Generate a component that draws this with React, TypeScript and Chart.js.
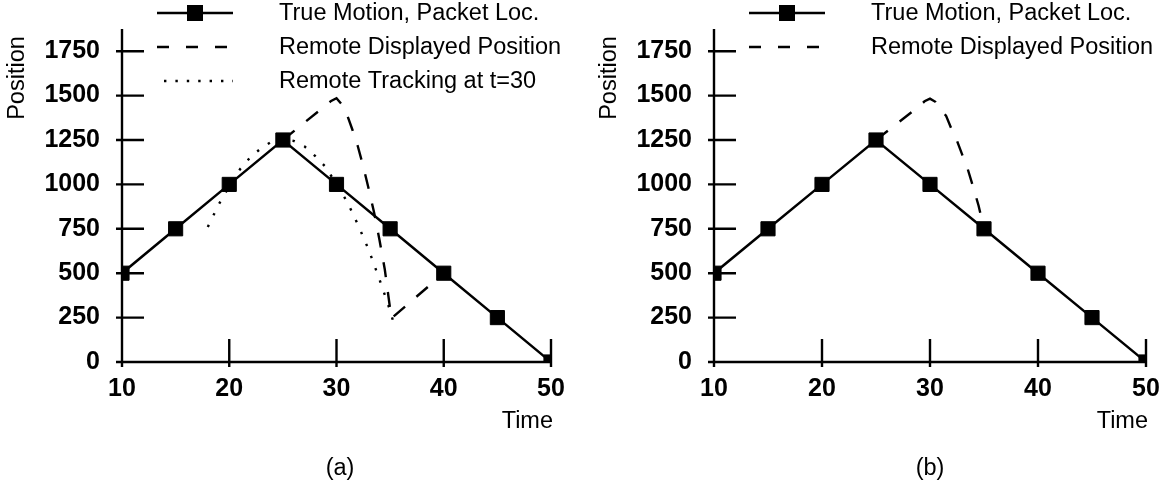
import React, { useEffect, useRef } from 'react';
import { Chart, registerables } from 'chart.js';

Chart.register(...registerables);

const FONT = '"Liberation Sans", Arial, Helvetica, sans-serif';

// True motion (packet locations)
const trueTimes = [10, 15, 20, 25, 30, 35, 40, 45, 50];
const truePositions = [500, 750, 1000, 1250, 1000, 750, 500, 250, 0];

// Panel (a): remote displayed position
const displayedTimesA = [25, 29, 29.5, 30, 30.5, 31, 31.5, 32, 32.5, 33, 33.5, 34, 34.5, 35, 35.1, 40];
const displayedPositionsA = [1250, 1445, 1470, 1485, 1450, 1390, 1305, 1212, 1100, 975, 843, 690, 522, 300, 245, 500];

// Panel (a): remote tracking at t=30
const trackingTimesA = [18, 19, 20, 21, 22, 23, 24, 25, 26, 27, 28, 29, 30, 31, 32, 33, 34, 35, 35.4];
const trackingPositionsA = [760, 885, 990, 1085, 1155, 1205, 1242, 1258, 1245, 1215, 1160, 1097, 1000, 902, 773, 632, 466, 290, 203];

// Panel (b): remote displayed position
const displayedTimesB = [25, 29, 29.5, 30, 30.5, 31, 31.5, 32, 32.5, 33, 33.5, 34, 34.5, 35];
const displayedPositionsB = [1250, 1440, 1468, 1483, 1465, 1425, 1385, 1310, 1245, 1165, 1085, 985, 880, 750];

const xTicks = [10, 20, 30, 40, 50];
const yTicks = [0, 250, 500, 750, 1000, 1250, 1500, 1750];
const X_MIN = 10;
const X_MAX = 50;
const Y_MIN = 0;
const Y_MAX = 1875;

const legendLabels = ['True Motion, Packet Loc.', 'Remote Displayed Position', 'Remote Tracking at t=30'];
const yTitle = 'Position';
const xTitle = 'Time';
const captions = ['(a)', '(b)'];

const pts = (xs: number[], ys: number[]) => xs.map((x, i) => ({ x, y: ys[i] }));

const decorPlugin = {
  id: 'decor',
  afterDraw(chart: any, _args: any, opts: any) {
    const ctx: CanvasRenderingContext2D = chart.ctx;
    const { left, right, top, bottom } = chart.chartArea;
    const xs = chart.scales.x;
    const ys = chart.scales.y;
    ctx.save();
    ctx.strokeStyle = '#000';
    ctx.fillStyle = '#000';
    ctx.lineWidth = 2.4;
    ctx.lineCap = 'butt';
    ctx.setLineDash([]);
    ctx.beginPath();
    ctx.moveTo(left, top);
    ctx.lineTo(left, bottom + 5);
    ctx.moveTo(left - 1, bottom);
    ctx.lineTo(right + 1, bottom);
    for (const v of yTicks) {
      const py = ys.getPixelForValue(v);
      ctx.moveTo(left - 6, py);
      ctx.lineTo(left + 22, py);
    }
    for (const v of xTicks) {
      const px = xs.getPixelForValue(v);
      ctx.moveTo(px, bottom - 23);
      ctx.lineTo(px, bottom + 5);
    }
    ctx.stroke();

    // legend
    const lx0 = left + 35;
    const lx1 = left + 111;
    const tx = left + 157;
    ctx.font = `23.5px ${FONT}`;
    ctx.textBaseline = 'middle';
    ctx.textAlign = 'left';
    chart.data.datasets.forEach((ds: any, i: number) => {
      const y = opts.legendTop + i * opts.legendGap;
      ctx.save();
      ctx.lineWidth = ds.borderWidth;
      const dash = ds.legendDash || [];
      ctx.setLineDash(dash);
      ctx.beginPath();
      ctx.moveTo(lx0 + (ds.legendStart || 0), y);
      ctx.lineTo(lx1, y);
      ctx.stroke();
      ctx.restore();
      if (ds.pointRadius > 0) {
        const s = 16;
        ctx.fillRect((lx0 + lx1) / 2 - s / 2, y - s / 2, s, s);
      }
      ctx.fillText(ds.label, tx, y + 1);
    });

    // axis titles
    ctx.save();
    ctx.translate(left - 104, 78);
    ctx.rotate(-Math.PI / 2);
    ctx.textAlign = 'center';
    ctx.fillText(yTitle, 0, 0);
    ctx.restore();

    ctx.textAlign = 'right';
    ctx.fillText(xTitle, right + 2, 422);

    ctx.textAlign = 'center';
    ctx.fillText(opts.caption, opts.captionX, 469);
    ctx.restore();
  },
};

function makeConfig(datasets: any[], yWidth: number, padRight: number, caption: string, captionX: number) {
  const tickFont = { family: FONT, size: 25, weight: 'bold' };
  return {
    type: 'line',
    data: { datasets },
    options: {
      responsive: false,
      animation: false,
      events: [],
      layout: { padding: { left: 0, right: padRight, top: 28, bottom: 0 } },
      elements: { line: { tension: 0 } },
      plugins: {
        legend: { display: false },
        tooltip: { enabled: false },
        decor: { legendTop: 13, legendGap: 34, caption, captionX },
      },
      scales: {
        x: {
          type: 'linear',
          min: X_MIN,
          max: X_MAX,
          afterBuildTicks: (s: any) => {
            s.ticks = xTicks.map((v) => ({ value: v }));
          },
          afterFit: (s: any) => {
            s.height = 131;
          },
          grid: { display: false },
          border: { display: false },
          ticks: {
            color: '#000',
            padding: 4,
            maxRotation: 0,
            autoSkip: false,
            font: tickFont,
            callback: (v: any) => String(v),
          },
        },
        y: {
          type: 'linear',
          min: Y_MIN,
          max: Y_MAX,
          afterBuildTicks: (s: any) => {
            s.ticks = yTicks.map((v) => ({ value: v }));
          },
          afterFit: (s: any) => {
            s.width = yWidth;
          },
          grid: { display: false },
          border: { display: false },
          ticks: {
            color: '#000',
            padding: 14,
            autoSkip: false,
            font: tickFont,
            callback: (v: any) => String(v),
          },
        },
      },
    },
    plugins: [decorPlugin],
  } as any;
}

const trueDataset = () => ({
  label: legendLabels[0],
  data: pts(trueTimes, truePositions),
  borderColor: '#000',
  backgroundColor: '#000',
  borderWidth: 2.5,
  pointStyle: 'rect',
  pointRadius: 10,
  pointBorderWidth: 1,
  pointBackgroundColor: '#000',
  pointBorderColor: '#000',
});

const dashedDataset = (xs: number[], ys: number[]) => ({
  label: legendLabels[1],
  data: pts(xs, ys),
  borderColor: '#000',
  borderWidth: 2.4,
  borderDash: [15, 15],
  legendDash: [12, 17],
  pointRadius: 0,
});

const dottedDataset = (xs: number[], ys: number[]) => ({
  label: legendLabels[2],
  data: pts(xs, ys),
  borderColor: '#000',
  borderWidth: 2.4,
  borderDash: [2.4, 10.6],
  legendDash: [2.4, 9],
  legendStart: 7,
  pointRadius: 0,
});

export default function App() {
  const refA = useRef<HTMLCanvasElement | null>(null);
  const refB = useRef<HTMLCanvasElement | null>(null);

  useEffect(() => {
    const a = new Chart(
      refA.current as HTMLCanvasElement,
      makeConfig(
        [trueDataset(), dashedDataset(displayedTimesA, displayedPositionsA), dottedDataset(trackingTimesA, trackingPositionsA)],
        122,
        31,
        captions[0],
        340
      )
    );
    const b = new Chart(
      refB.current as HTMLCanvasElement,
      makeConfig([trueDataset(), dashedDataset(displayedTimesB, displayedPositionsB)], 132, 18, captions[1], 348)
    );
    return () => {
      a.destroy();
      b.destroy();
    };
  }, []);

  return (
    <div
      style={{
        position: 'fixed',
        left: 0,
        top: 0,
        width: 1164,
        height: 493,
        display: 'flex',
        background: '#fff',
      }}
    >
      <canvas ref={refA} width={582} height={493} style={{ display: 'block', width: 582, height: 493 }} />
      <canvas ref={refB} width={582} height={493} style={{ display: 'block', width: 582, height: 493 }} />
    </div>
  );
}
